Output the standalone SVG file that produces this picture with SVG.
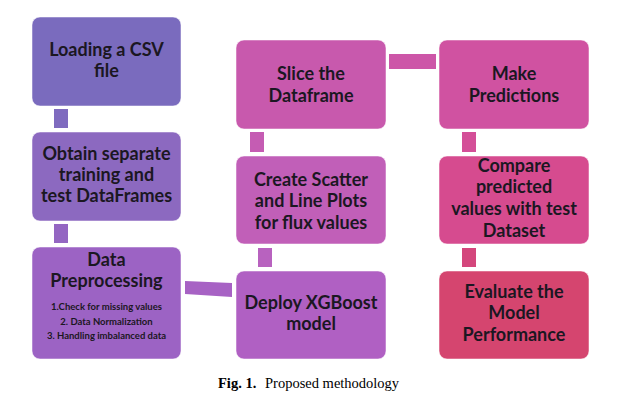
<svg xmlns="http://www.w3.org/2000/svg" width="625" height="404" viewBox="0 0 625 404">
<style>
.box{stroke:#ffffff;stroke-opacity:0.5;stroke-width:1}
.t{font-family:Lato,"Liberation Sans",sans-serif;font-weight:bold;font-size:18px;fill:#1b1722;text-anchor:middle}
.s{font-family:Lato,"Liberation Sans",sans-serif;font-weight:bold;font-size:9.5px;fill:#1b1722;text-anchor:middle}
.cap{font-family:"Liberation Serif",serif;font-size:14.5px;fill:#000}
</style>
<rect width="625" height="404" fill="#ffffff"/>
<g id="connectors">
<rect x="54" y="109" width="14" height="19" fill="#7f6bbf"/>
<rect x="54" y="224" width="14" height="19" fill="#9466c2"/>
<polygon points="185,281 232,283 232,297 185,294" fill="#a762c4"/>
<rect x="258" y="248" width="14" height="19" fill="#b862bf"/>
<rect x="250" y="132" width="14" height="20" fill="#c55cb3"/>
<rect x="389" y="54" width="47" height="15" fill="#cd56a8"/>
<rect x="462" y="132" width="14" height="20" fill="#d44f98"/>
<rect x="462" y="248" width="14" height="19" fill="#d4467c"/>
</g>
<g id="n1"><rect class="box" x="32" y="17" width="149" height="89" rx="8" fill="#7a6bbe"/>
<text class="t" x="106.5" y="56">Loading a CSV</text><text class="t" x="106.5" y="77">file</text></g>
<g id="n2"><rect class="box" x="32" y="132" width="149" height="89" rx="8" fill="#8c69c0"/>
<text class="t" x="106.5" y="160">Obtain separate</text><text class="t" x="106.5" y="181">training and</text><text class="t" x="106.5" y="202">test DataFrames</text></g>
<g id="n3"><rect class="box" x="32" y="247" width="149" height="112" rx="8" fill="#9c63c4"/>
<text class="t" x="106.5" y="266">Data</text><text class="t" x="106.5" y="287">Preprocessing</text>
<text class="s" x="106.5" y="310">1.Check for missing values</text>
<text class="s" x="106.5" y="324.5">2. Data Normalization</text>
<text class="s" x="106.5" y="339">3. Handling imbalanced data</text></g>
<g id="n4"><rect class="box" x="236" y="271" width="150" height="88" rx="8" fill="#b060c3"/>
<text class="t" x="311" y="309">Deploy XGBoost</text><text class="t" x="311" y="330">model</text></g>
<g id="n5"><rect class="box" x="236" y="156" width="150" height="88" rx="8" fill="#c15fb8"/>
<text class="t" x="311" y="186">Create Scatter</text><text class="t" x="311" y="207">and Line Plots</text><text class="t" x="311" y="229">for flux values</text></g>
<g id="n6"><rect class="box" x="236" y="40" width="150" height="89" rx="8" fill="#c859ad"/>
<text class="t" x="311" y="80">Slice the</text><text class="t" x="311" y="102">Dataframe</text></g>
<g id="n7"><rect class="box" x="439" y="40" width="150" height="89" rx="8" fill="#d052a1"/>
<text class="t" x="514" y="80">Make</text><text class="t" x="514" y="102">Predictions</text></g>
<g id="n8"><rect class="box" x="439" y="156" width="150" height="88" rx="8" fill="#d64b8f"/>
<text class="t" x="514" y="172">Compare</text><text class="t" x="514" y="193">predicted</text><text class="t" x="514" y="215">values with test</text><text class="t" x="514" y="237">Dataset</text></g>
<g id="n9"><rect class="box" x="439" y="271" width="150" height="88" rx="8" fill="#d5456f"/>
<text class="t" x="514" y="298">Evaluate the</text><text class="t" x="514" y="319">Model</text><text class="t" x="514" y="341">Performance</text></g>
<text class="cap" x="218" y="388"><tspan font-weight="bold">Fig. 1.</tspan><tspan x="265">Proposed methodology</tspan></text>
</svg>
